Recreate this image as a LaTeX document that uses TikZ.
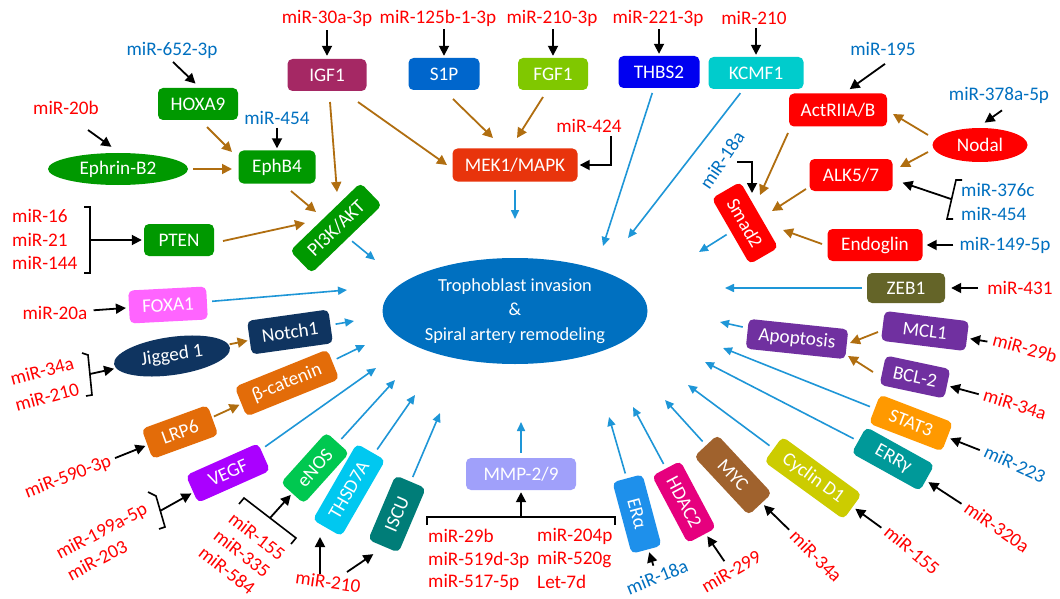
\documentclass[tikz,border=0pt]{standalone}
\usepackage{fontspec}
\setmainfont{Carlito}
\usetikzlibrary{arrows.meta,shapes.geometric}
\newcommand\fsz{\fontsize{19.2}{22}\selectfont}
\definecolor{lred}{RGB}{255,0,0}
\definecolor{lblue}{RGB}{0,112,192}
\definecolor{brn}{RGB}{176,110,16}
\definecolor{abl}{RGB}{30,150,215}
\definecolor{mainc}{RGB}{0,112,192}
\definecolor{grn}{RGB}{0,153,0}
\definecolor{igfc}{RGB}{165,40,100}
\definecolor{s1pc}{RGB}{0,102,204}
\definecolor{fgfc}{RGB}{128,200,0}
\definecolor{mekc}{RGB}{232,52,12}
\definecolor{thbc}{RGB}{0,0,240}
\definecolor{kcmc}{RGB}{0,204,204}
\definecolor{redb}{RGB}{255,0,0}
\definecolor{zebc}{RGB}{100,100,40}
\definecolor{purc}{RGB}{112,48,160}
\definecolor{statc}{RGB}{255,153,0}
\definecolor{errc}{RGB}{0,153,153}
\definecolor{cycc}{RGB}{204,204,0}
\definecolor{mycc}{RGB}{160,98,45}
\definecolor{hdacc}{RGB}{230,0,126}
\definecolor{erac}{RGB}{30,144,235}
\definecolor{mmpc}{RGB}{160,160,250}
\definecolor{iscuc}{RGB}{0,125,120}
\definecolor{thsdc}{RGB}{0,200,240}
\definecolor{enosc}{RGB}{0,200,80}
\definecolor{vegfc}{RGB}{170,0,255}
\definecolor{orc}{RGB}{227,108,9}
\definecolor{navc}{RGB}{15,52,96}
\definecolor{foxc}{RGB}{255,100,255}
\tikzset{
 bx/.style={rectangle, rounded corners=5pt, text=white, font=\fsz, inner sep=0pt, minimum height=32pt},
 el/.style={ellipse, text=white, font=\fsz, inner sep=0pt},
 rl/.style={text=lred, font=\fsz, inner sep=1pt},
 bl/.style={text=lblue, font=\fsz, inner sep=1pt},
 karr/.style={-{Triangle[length=10pt,width=10pt]}, line width=1.8pt, black, shorten >=2pt},
 barr/.style={-{Triangle[length=10pt,width=10pt]}, line width=1.8pt, brn},
 aarr/.style={-{Triangle[length=9pt,width=8pt]}, line width=1.6pt, abl, shorten <=5pt},
 brk/.style={line width=1.6pt, black},
}
\begin{document}
\begin{tikzpicture}[x=1pt,y=-1pt]
\useasboundingbox (0,0) rectangle (1060,599);
\fill[white] (0,0) rectangle (1060,599);

% central
\node[el, fill=mainc, minimum width=265pt, minimum height=106pt, align=center, font=\fontsize{18.4}{24.5}\selectfont] (main) at (515,311) {Trophoblast invasion\\\&\\Spiral artery remodeling};

% top
\node[rl] (m30) at (327,18) {miR-30a-3p};
\node[rl] (m125) at (438,18) {miR-125b-1-3p};
\node[rl] (m2103) at (552,18) {miR-210-3p};
\node[rl] (m221) at (658,18) {miR-221-3p};
\node[rl] (m210a) at (754,18) {miR-210};
\node[bx, fill=igfc, minimum width=79pt] (igf1) at (327,75) {IGF1};
\node[bx, fill=s1pc, minimum width=71pt] (s1p) at (444,74) {S1P};
\node[bx, fill=fgfc, minimum width=70pt] (fgf1) at (553,74) {FGF1};
\node[bx, fill=thbc, minimum width=81pt] (thbs2) at (659,72) {THBS2};
\node[bx, fill=kcmc, minimum width=95pt] (kcmf1) at (756,73) {KCMF1};
\node[bx, fill=mekc, minimum width=125pt, minimum height=33pt] (mek) at (515,165) {MEK1/MAPK};
\node[rl] (m424) at (589,126) {miR-424};

% right
\node[bl] (m195) at (883,49) {miR-195};
\node[bx, fill=redb, minimum width=98pt, minimum height=33pt] (actr) at (838,110) {ActRIIA/B};
\node[bl] (m378) at (999,95) {miR-378a-5p};
\node[el, fill=redb, minimum width=95pt, minimum height=34pt] (nodal) at (980,145) {Nodal};
\node[bx, fill=redb, minimum width=83pt] (alk) at (851,175) {ALK5/7};
\node[bl, anchor=west] (m376) at (960,190) {miR-376c};
\node[bl, anchor=west] (m454b) at (960,214) {miR-454};
\node[bx, fill=redb, minimum width=76pt, minimum height=33pt, rotate=-60] (smad) at (745,223) {Smad2};
\node[bl, rotate=56] (m18a) at (722,160) {miR-18a};
\node[bx, fill=redb, minimum width=95pt] (endo) at (875,245) {Endoglin};
\node[bl] (m149) at (1005,245) {miR-149-5p};
\node[bx, fill=zebc, minimum width=78pt, minimum height=30pt] (zeb) at (906,288) {ZEB1};
\node[rl] (m431) at (1020,288) {miR-431};
\node[bx, fill=purc, minimum width=100pt, minimum height=30pt, rotate=-6] (apop) at (797,339) {Apoptosis};
\node[bx, fill=purc, minimum width=85pt, minimum height=30pt, rotate=-7] (mcl) at (925,331) {MCL1};
\node[rl, rotate=-15] (m29b) at (1025,348) {miR-29b};
\node[bx, fill=purc, minimum width=66pt, minimum height=30pt, rotate=-12] (bcl) at (915,377) {BCL-2};
\node[rl, rotate=-17] (m34r) at (1015,404) {miR-34a};
\node[bx, fill=statc, minimum width=78pt, minimum height=31pt, rotate=-21] (stat) at (911,423) {STAT3};
\node[bl, rotate=-25] (m223) at (1015,464) {miR-223};
\node[bx, fill=errc, minimum width=78pt, minimum height=30pt, rotate=-29] (err) at (893,459) {ERRγ};
\node[rl, rotate=-35] (m320) at (997,527) {miR-320a};
\node[bx, fill=cycc, minimum width=98pt, minimum height=31pt, rotate=-36] (cyc) at (813,478) {Cyclin D1};
\node[rl, rotate=-40] (m155r) at (912,550) {miR-155};
\node[bx, fill=mycc, minimum width=80pt, minimum height=32pt, rotate=-47] (myc) at (733,475) {MYC};
\node[rl, rotate=-45] (m34b) at (816,556) {miR-34a};
\node[bx, fill=hdacc, minimum width=76pt, minimum height=32pt, rotate=-62] (hdac) at (684,502) {HDAC2};
\node[rl, rotate=30] (m299) at (731,571) {miR-299};
\node[bx, fill=erac, minimum width=74pt, minimum height=31pt, rotate=-75] (era) at (637,514) {ERα};
\node[bl, rotate=22] (m18b) at (657,577) {miR-18a};

% bottom
\node[bx, fill=mmpc, minimum width=110pt] (mmp) at (521,474) {MMP-2/9};
\node[rl, anchor=west] (l1) at (427,536) {miR-29b};
\node[rl, anchor=west] (l2) at (427,560) {miR-519d-3p};
\node[rl, anchor=west] (l3) at (427,582) {miR-517-5p};
\node[rl, anchor=west] (l4) at (536,536) {miR-204p};
\node[rl, anchor=west] (l5) at (536,560) {miR-520g};
\node[rl, anchor=west] (l6) at (536,582) {Let-7d};
\node[bx, fill=iscuc, minimum width=70pt, minimum height=33pt, rotate=67] (iscu) at (397,514) {ISCU};
\node[bx, fill=thsdc, minimum width=88pt, minimum height=33pt, rotate=60] (thsd) at (349,490) {THSD7A};
\node[bx, fill=enosc, minimum width=68pt, minimum height=31pt, rotate=48] (enos) at (315,468) {eNOS};
\node[rl, rotate=-8] (m210c) at (328,582) {miR-210};
\node[rl, rotate=-38] (m155l) at (257,536) {miR-155};
\node[rl, rotate=-38] (m335) at (242,553) {miR-335};
\node[rl, rotate=-38] (m584) at (227,570) {miR-584};
\node[bx, fill=vegfc, minimum width=79pt, minimum height=30pt, rotate=24] (vegf) at (228,473) {VEGF};
\node[rl, rotate=28] (m199) at (102,532) {miR-199a-5p};
\node[rl, rotate=28] (m203) at (97,560) {miR-203};
\node[bx, fill=orc, minimum width=70pt, minimum height=32pt, rotate=20] (lrp) at (180,432) {LRP6};
\node[rl, rotate=21] (m590) at (68,477) {miR-590-3p};
\node[bx, fill=orc, minimum width=100pt, minimum height=32pt, rotate=22] (bcat) at (287,383) {β-catenin};

% left
\node[rl, rotate=15] (m34l) at (42,371) {miR-34a};
\node[rl, rotate=15] (m210l) at (47,397) {miR-210};
\node[el, fill=navc, minimum width=117pt, minimum height=38pt, rotate=8] (jig) at (172,356) {Jigged 1};
\node[bx, fill=navc, minimum width=82pt, minimum height=34pt, rotate=8] (notch) at (290,332) {Notch1};
\node[bx, fill=foxc, minimum width=78pt, minimum height=33pt, rotate=3] (foxa) at (168,305) {FOXA1};
\node[rl] (m20a) at (55,313) {miR-20a};
\node[bx, fill=grn, minimum width=70pt] (pten) at (179,240) {PTEN};
\node[rl, anchor=west] (m16) at (11,216) {miR-16};
\node[rl, anchor=west] (m21) at (11,240) {miR-21};
\node[rl, anchor=west] (m144) at (11,263) {miR-144};
\node[bx, fill=grn, minimum width=98pt, minimum height=31pt, rotate=44] (pi3k) at (336,228) {PI3K/AKT};
\node[bx, fill=grn, minimum width=77pt, minimum height=33pt] (ephb4) at (277,167) {EphB4};
\node[bl] (m454a) at (277,118) {miR-454};
\node[bx, fill=grn, minimum width=80pt] (hoxa) at (198,104) {HOXA9};
\node[bl] (m652) at (172,50) {miR-652-3p};
\node[el, fill=grn, minimum width=140pt, minimum height=32pt] (ephrin) at (118,169) {Ephrin-B2};
\node[rl] (m20b) at (66,108) {miR-20b};

% coordinates
\coordinate (c424) at (611,0);
\coordinate (c18) at (737,162);
\coordinate (t210) at (320,535);
\coordinate (tmek) at (515,219);
\coordinate (tthb) at (603,246);
\coordinate (tkcm) at (628,238);
\coordinate (tsmad) at (699,252);
\coordinate (tzeb) at (725,288);
\coordinate (tapop) at (720,322);
\coordinate (tstat) at (723,348);
\coordinate (terr) at (705,362);
\coordinate (tcyc) at (688,385);
\coordinate (tmyc) at (665,400);
\coordinate (thdac) at (633,407);
\coordinate (tera) at (609,417);
\coordinate (tmmp) at (521,422);
\coordinate (tiscu) at (440,413);
\coordinate (tthsd) at (415,395);
\coordinate (tenos) at (395,380);
\coordinate (tvegf) at (376,368);
\coordinate (tbcat) at (365,345);
\coordinate (tnotch) at (354,321);
\coordinate (tfoxa) at (347,290);
\coordinate (tpi3k) at (375,260);
\coordinate (b16) at (90,240);
\coordinate (b34) at (90,374);
\coordinate (b199) at (160,511);
\coordinate (b155) at (270,518);
\coordinate (bmmp) at (521,517);
\coordinate (b376) at (951,199);

% brackets
\draw[brk] (84,207) -- (90,207) -- (90,273) -- (84,273);
\draw[brk] (82,353) -- (88,355) -- (92,395) -- (86,396);
\draw[brk] (148,492) -- (156,496) -- (165,527) -- (159,529);
\draw[brk] (239,504) -- (244,498) -- (296,538) -- (291,544);
\draw[brk] (427,525) -- (427,517) -- (615,517) -- (615,525);
\draw[brk] (962,180) -- (956,180) -- (947,219) -- (953,219);

% black arrows
\draw[karr, shorten <=3pt, shorten >=3pt] (m30) -- (igf1);
\draw[karr, shorten <=2pt] (m125.south -| s1p) -- (s1p.north);
\draw[karr, shorten <=2pt] (m2103.south -| fgf1) -- (fgf1.north);
\draw[karr, shorten <=2pt] (m221.south -| thbs2) -- (thbs2.north);
\draw[karr, shorten <=2pt] (m210a.south -| kcmf1) -- (kcmf1.north);
\draw[karr, shorten <=2pt] (m424.south -| c424) |- (mek.east);
\draw[karr] ([shift={(2,7)}]m195.south) -- ([shift={(10,-3)}]actr.north);
\draw[karr] ([shift={(3,6)}]m378.south) -- ([shift={(3,-4)}]nodal.north);
\draw[karr] (b376) -- ([shift={(8,7)}]alk.east);
\draw[karr, shorten <=5pt, shorten >=4pt] (m149) -- (endo);
\draw[karr, shorten <=8pt, shorten >=6pt] (m431) -- (zeb);
\draw[karr, shorten <=4pt, shorten >=3pt] (m29b) -- (mcl);
\draw[karr, shorten <=4pt, shorten >=3pt] (m34r) -- (bcl);
\draw[karr, shorten <=4pt, shorten >=3pt] (m223) -- (stat);
\draw[karr, shorten <=4pt, shorten >=3pt] (m320) -- (err);
\draw[karr, shorten <=4pt, shorten >=3pt] (m155r) -- (cyc);
\draw[karr, shorten <=4pt, shorten >=3pt] (m34b) -- (myc);
\draw[karr, shorten <=4pt, shorten >=3pt] (m299) -- (hdac);
\draw[karr, shorten <=4pt, shorten >=3pt] (m18b) -- (era);
\draw[karr] (bmmp) -- (mmp);
\draw[karr] (m210c.north -| t210) -- (t210);
\draw[karr] ([shift={(19,-10)}]m210c.center) -- ([shift={(-22,39)}]iscu.center);
\draw[karr] (b155) -- (enos);
\draw[karr] (b199) -- (vegf);
\draw[karr, shorten <=4pt] (m590) -- (lrp);
\draw[karr] (b34) -- (jig);
\draw[karr, shorten <=5pt, shorten >=3pt] (m20a) -- (foxa);
\draw[karr] (b16) -- (pten);
\draw[karr] ([shift={(22,22)}]m20b.center) -- ([shift={(-5,-21)}]ephrin.center);
\draw[karr] ([shift={(1,12)}]m652.center) -- ([shift={(-1,-19)}]hoxa.center);
\draw[karr, shorten <=2pt] (m454a) -- (ephb4);
\draw[karr] (c18) -| ([shift={(7,-28)}]smad.center);

% brown arrows
\draw[barr] ([shift={(31,27)}]igf1.center) -- ([shift={(-68,0)}]mek.center);
\draw[barr] ([shift={(9,25)}]s1p.center) -- ([shift={(-22,-27)}]mek.center);
\draw[barr] ([shift={(-10,23)}]fgf1.center) -- ([shift={(2,-27)}]mek.center);
\draw[barr] ([shift={(3,27)}]igf1.center) -- ([shift={(1,-36)}]pi3k.center);
\draw[barr] ([shift={(14,24)}]ephb4.center) -- ([shift={(-20,-16)}]pi3k.center);
\draw[barr] ([shift={(44,1)}]pten.center) -- ([shift={(-31,-5)}]pi3k.center);
\draw[barr] ([shift={(75,0)}]ephrin.center) -- ([shift={(-45,2)}]ephb4.center);
\draw[barr] ([shift={(9,23)}]hoxa.center) -- ([shift={(-45,-15)}]ephb4.center);
\draw[barr] ([shift={(-52,-10)}]nodal.center) -- ([shift={(55,4)}]actr.center);
\draw[barr] ([shift={(-52,7)}]nodal.center) -- ([shift={(49,-8)}]alk.center);
\draw[barr] ([shift={(-50,23)}]actr.center) -- ([shift={(15,-28)}]smad.center);
\draw[barr] ([shift={(-45,14)}]alk.center) -- ([shift={(27,-12)}]smad.center);
\draw[barr] ([shift={(-53,-1)}]endo.center) -- ([shift={(38,7)}]smad.center);
\draw[barr] ([shift={(-47,1)}]mcl.center) -- ([shift={(53,4)}]apop.center);
\draw[barr] ([shift={(-42,-5)}]bcl.center) -- ([shift={(51,17)}]apop.center);
\draw[barr, shorten <=1pt, shorten >=2pt] (jig) -- (notch);
\draw[barr, shorten <=2pt, shorten >=2pt] (lrp) -- (bcat);

% blue arrows to the centre
\draw[aarr, shorten <=8pt] (mek) -- (tmek);
\draw[aarr] (thbs2) -- (tthb);
\draw[aarr] (kcmf1) -- (tkcm);
\draw[aarr] (smad) -- (tsmad);
\draw[aarr] (zeb) -- (tzeb);
\draw[aarr] (apop) -- (tapop);
\draw[aarr] (stat) -- (tstat);
\draw[aarr] (err) -- (terr);
\draw[aarr] (cyc) -- (tcyc);
\draw[aarr] (myc) -- (tmyc);
\draw[aarr] (hdac) -- (thdac);
\draw[aarr] (era) -- (tera);
\draw[aarr] (mmp) -- (tmmp);
\draw[aarr] (iscu) -- (tiscu);
\draw[aarr] (thsd) -- (tthsd);
\draw[aarr] (enos) -- (tenos);
\draw[aarr] (vegf) -- (tvegf);
\draw[aarr] (bcat) -- (tbcat);
\draw[aarr] (notch) -- (tnotch);
\draw[aarr] (foxa) -- (tfoxa);
\draw[aarr] (pi3k) -- (tpi3k);
\end{tikzpicture}
\end{document}
